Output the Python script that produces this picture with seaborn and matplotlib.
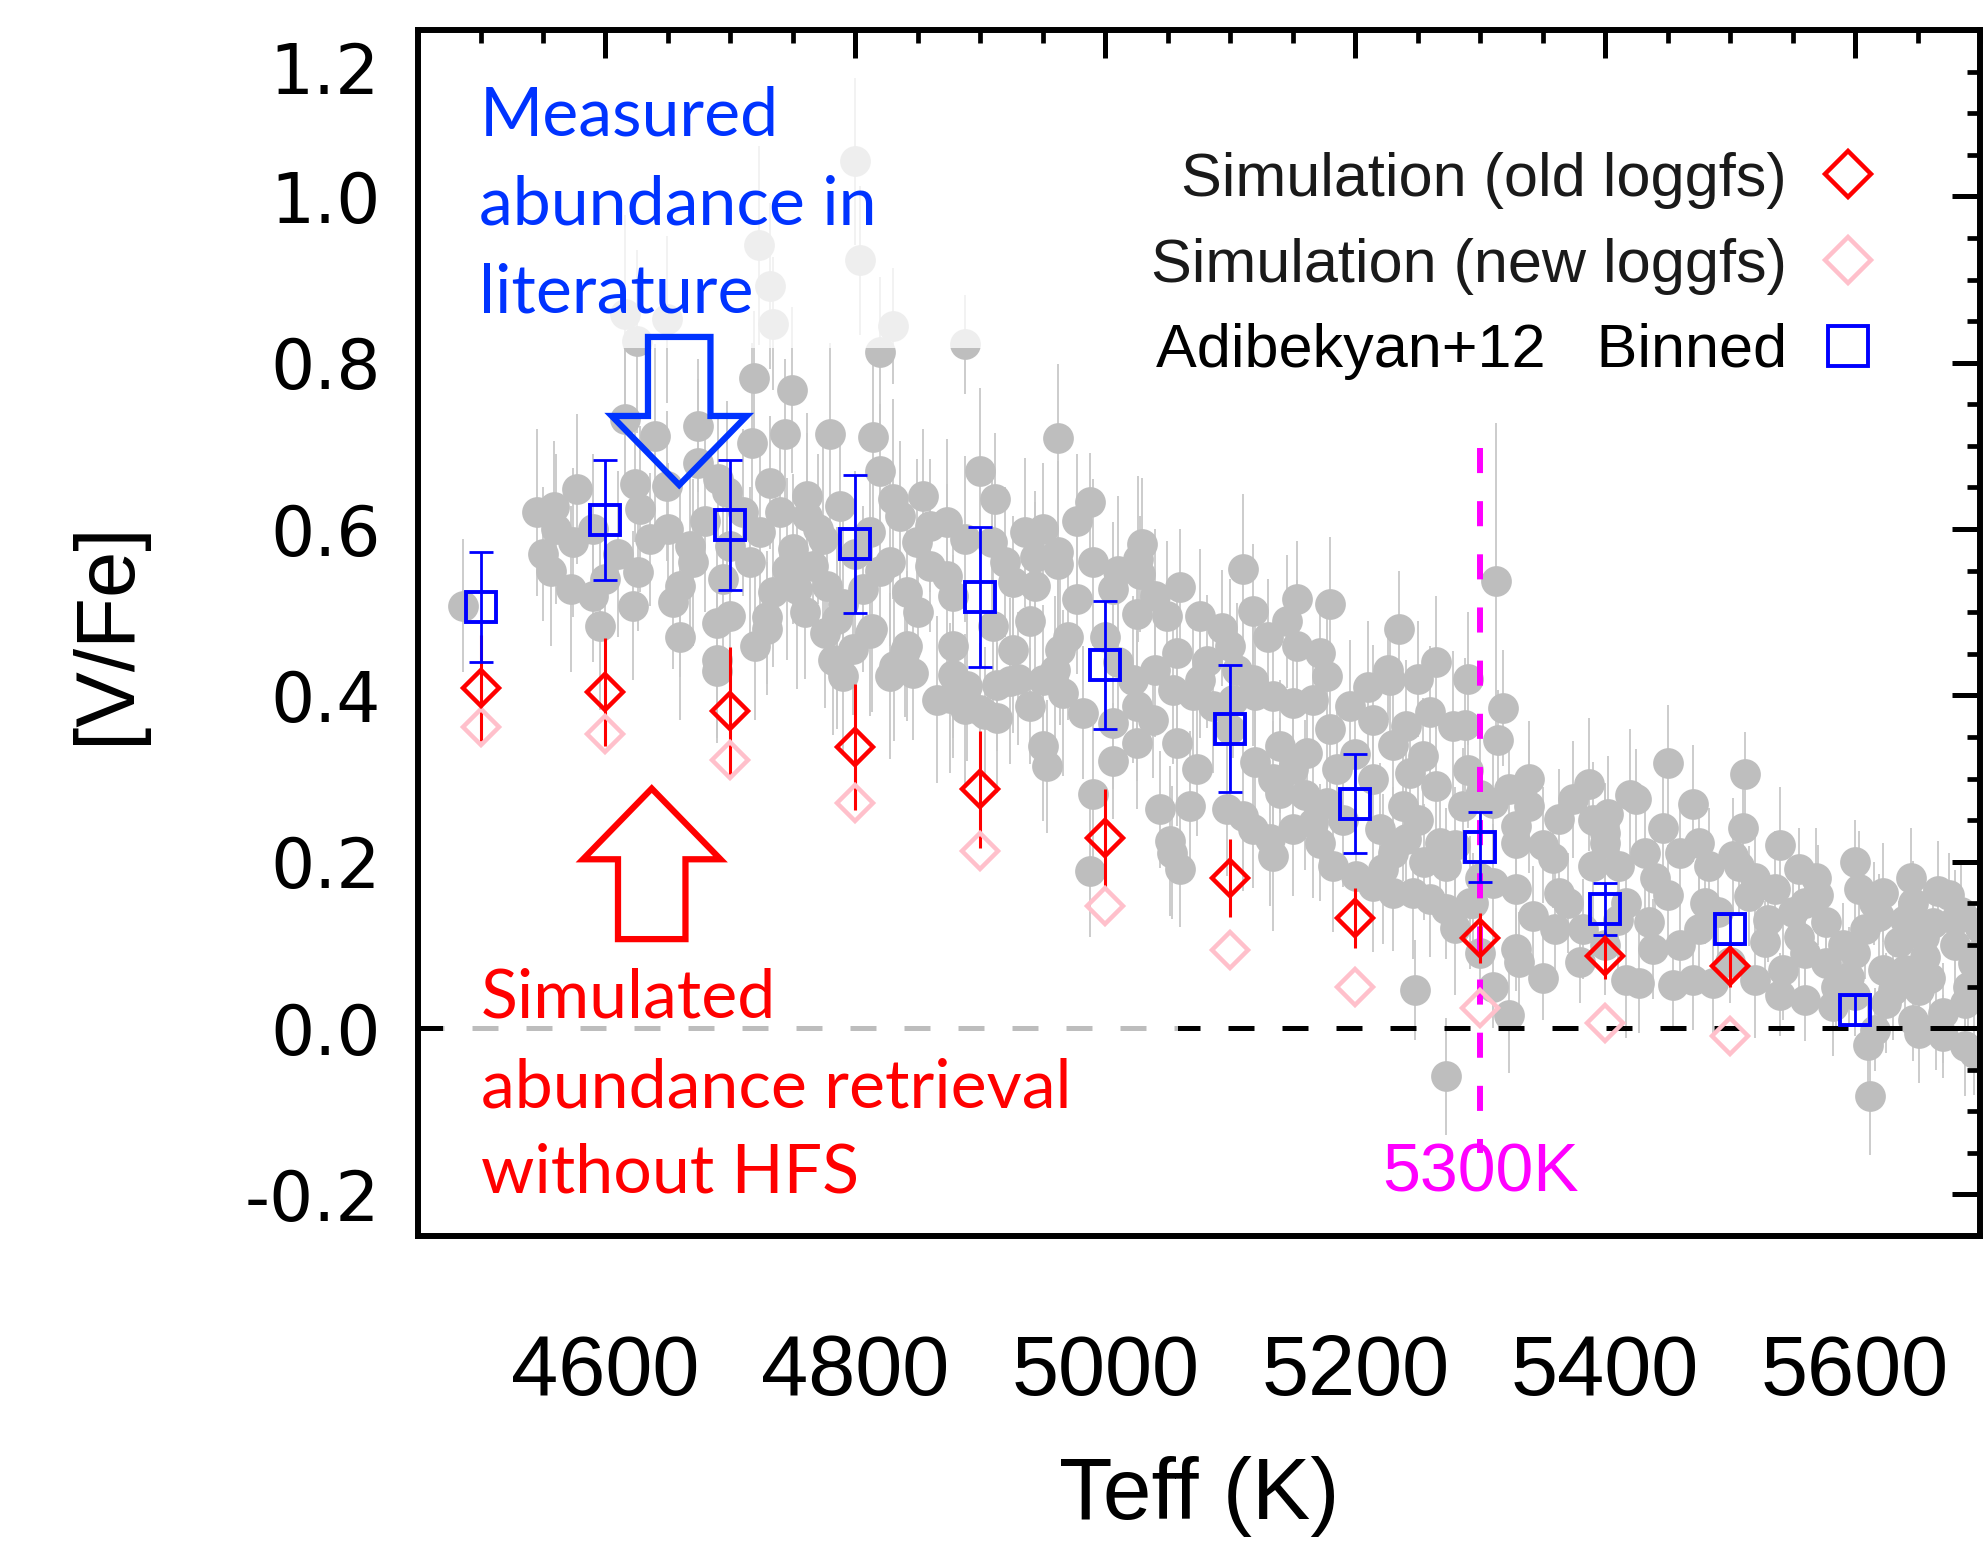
import numpy as np
import pandas as pd
import matplotlib
matplotlib.use("Agg")
import matplotlib.pyplot as plt
import seaborn as sns
from matplotlib.patches import Polygon, Rectangle
from matplotlib.ticker import MultipleLocator
import matplotlib.transforms as mtransforms

# ---------------- data ----------------
# Adibekyan+12 individual stars (Teff, [V/Fe], error)
star_teff = [
    4800, 4723, 4804, 4732, 4734, 4616, 4649, 4625, 4830, 4888, 4820,
    4719, 4749, 4616, 4640, 4674, 4717, 4744, 4780, 4814, 4820, 4674, 4577, 4559, 4624, 4628,
    4649, 4697, 4732, 4761, 4788, 4830, 4854, 4873, 4574, 4636, 4668, 4724, 4750, 4774, 4812,
    4849, 4556, 4626, 4572, 4590, 4622, 4660, 4654, 4694, 4734, 4753, 4777, 4806, 4841, 4873,
    4486, 4596, 4689, 4729, 4785, 4812, 4841, 4798, 4689, 4782, 4878, 4700, 4761, 4836, 4860,
    4745, 4766, 4828, 4860, 4716, 4670, 4878,
    4962, 4900, 4912, 4988, 4977, 4936, 5029, 5026, 5028, 4888, 4909, 4944, 4962, 4962, 4926,
    4944, 5110, 5118, 5153, 5145, 4977, 5006, 5025, 5049, 5076, 5093, 4940, 4910, 5153, 5172,
    5057, 5081, 4926, 4964, 5226, 5105, 5180, 5235, 5265, 5313,
    4689, 4790, 4828, 4846, 4876, 4878, 4729, 4776, 4813, 4785, 4831, 4840, 4865, 4888, 4904,
    4889, 4913, 4924, 4913, 4900, 4940, 4950, 4966, 4982, 4950, 4953, 5006, 4990, 4988, 5022,
    5025, 5025, 5044, 5052, 5053, 5060, 5068, 5057, 5073, 5054, 5076, 5097, 5110, 5118, 5132,
    5134, 5140, 5134, 5140, 5150, 5161, 5150, 5166, 5172, 5182, 5177, 5185, 5196, 5214, 5214,
    5220, 5201, 5222, 5214, 5230, 5241, 5238, 5244, 5241, 5254, 5265, 5278, 5286, 5268, 5273,
    5246, 5260, 5273, 5292, 5228, 5177, 5166, 5248, 5273, 5118, 5134, 5150, 5102, 5086, 5038,
    5006,
    5318, 5314, 5288, 5339, 5323, 5310, 5339, 5329, 5329, 5363, 5374, 5387, 5425, 5450, 5512,
    5402, 5400, 5400, 5358, 5390, 5411, 5432, 5446, 5475, 5483, 5507, 5555, 5569, 5603, 5622,
    5646, 5666, 5536, 5698, 5294, 5310, 5329, 5363, 5342, 5360, 5382, 5329, 5331, 5323, 5417,
    5435, 5438, 5417, 5427, 5454, 5470, 5475, 5480, 5486, 5520, 5528, 5542, 5555, 5560, 5582,
    5577, 5595, 5616, 5612, 5622, 5635, 5630, 5646, 5651, 5656, 5670, 5670, 5688, 5688, 5694,
    5662, 5608, 5619, 5651, 5577, 5515, 5502, 5590, 5640, 5600, 5680, 5660, 5700, 5530, 5460,
    5500, 5450, 5560,
    4590, 4610, 4650, 4680, 4700, 4710, 4600, 4560, 4545, 4690, 4740, 4770, 4800, 4820, 4850,
    4790, 4760, 4720, 4660, 4550,
    4920, 4950, 4990, 5010, 5040, 5060, 5000, 4970, 4930, 4960, 5010, 5040, 5070, 5100, 5130,
    5120,
    5100, 5120, 5160, 5190, 5200, 5230, 5250, 5280, 5260, 5290, 5180, 5210, 5250, 5290, 5300,
    5300, 5280, 5255, 5230,
    5350, 5370, 5390, 5410, 5420, 5440, 5460, 5470, 5490, 5510, 5520, 5540, 5550, 5380, 5400,
    5350, 5300, 5310,
    5570, 5585, 5600, 5615, 5625, 5640, 5655, 5665, 5680, 5690, 5700, 5675, 5645, 5600, 5560,
    5540, 5610, 5695, 5685, 5700,
]
star_vfe = [
    1.042, 0.941, 0.923, 0.892, 0.847, 0.858, 0.852, 0.826, 0.844, 0.822, 0.813,
    0.782, 0.767, 0.732, 0.712, 0.724, 0.704, 0.714, 0.714, 0.711, 0.670, 0.680, 0.648, 0.626, 0.654, 0.624,
    0.652, 0.644, 0.656, 0.640, 0.628, 0.636, 0.640, 0.608, 0.584, 0.588, 0.580, 0.596, 0.576, 0.588, 0.596,
    0.584, 0.550, 0.548, 0.528, 0.520, 0.508, 0.532, 0.512, 0.540, 0.524, 0.528, 0.532, 0.528, 0.524, 0.544,
    0.508, 0.483, 0.487, 0.480, 0.492, 0.475, 0.459, 0.456, 0.443, 0.443, 0.459, 0.495, 0.616, 0.616, 0.604,
    0.552, 0.556, 0.560, 0.556, 0.560, 0.560, 0.520,
    0.709, 0.670, 0.636, 0.632, 0.610, 0.596, 0.582, 0.564, 0.546, 0.588, 0.584, 0.566, 0.572, 0.558, 0.536,
    0.532, 0.552, 0.502, 0.516, 0.489, 0.516, 0.528, 0.498, 0.496, 0.496, 0.481, 0.490, 0.484, 0.459, 0.451,
    0.451, 0.441, 0.455, 0.455, 0.431, 0.431, 0.510, 0.480, 0.440, 0.538,
    0.429, 0.423, 0.423, 0.427, 0.397, 0.425, 0.494, 0.475, 0.480, 0.440, 0.435, 0.454, 0.395, 0.384, 0.378,
    0.411, 0.413, 0.417, 0.373, 0.383, 0.387, 0.419, 0.403, 0.379, 0.339, 0.315, 0.321, 0.281, 0.189, 0.419,
    0.387, 0.343, 0.263, 0.225, 0.211, 0.191, 0.267, 0.343, 0.311, 0.407, 0.419, 0.263, 0.255, 0.239, 0.227,
    0.207, 0.339, 0.299, 0.283, 0.311, 0.331, 0.239, 0.247, 0.223, 0.195, 0.271, 0.311, 0.387, 0.371, 0.299,
    0.239, 0.183, 0.191, 0.171, 0.163, 0.227, 0.267, 0.307, 0.363, 0.327, 0.291, 0.363, 0.267, 0.223, 0.195,
    0.163, 0.155, 0.143, 0.151, 0.419, 0.423, 0.395, 0.046, -0.058, 0.419, 0.399, 0.391, 0.395, 0.387, 0.371,
    0.367,
    0.385, 0.346, 0.365, 0.299, 0.287, 0.271, 0.267, 0.243, 0.223, 0.251, 0.275, 0.293, 0.275, 0.319, 0.306,
    0.257, 0.235, 0.223, 0.205, 0.195, 0.195, 0.211, 0.241, 0.223, 0.195, 0.195, 0.191, 0.181, 0.167, 0.163,
    0.151, 0.165, 0.167, 0.126, 0.151, 0.175, 0.167, 0.163, 0.135, 0.119, 0.119, 0.095, 0.079, 0.016, 0.151,
    0.127, 0.095, 0.058, 0.054, 0.052, 0.058, 0.119, 0.151, 0.054, 0.058, 0.103, 0.070, 0.110, 0.034, 0.026,
    0.078, 0.062, -0.002, -0.082, 0.070, 0.103, 0.046, 0.010, -0.006, 0.086, 0.018, -0.010, -0.022, 0.030, 0.078,
    0.126, 0.119, 0.135, 0.046, 0.127, 0.159, 0.207, 0.100, 0.130, 0.040, 0.100, 0.060, 0.050, 0.130, 0.100,
    0.080, 0.160, 0.150,
    0.600, 0.570, 0.600, 0.610, 0.580, 0.620, 0.540, 0.600, 0.620, 0.660, 0.620, 0.600, 0.570, 0.550, 0.500,
    0.510, 0.500, 0.460, 0.470, 0.570,
    0.560, 0.600, 0.560, 0.550, 0.520, 0.530, 0.470, 0.470, 0.420, 0.430, 0.440, 0.430, 0.400, 0.460, 0.470,
    0.400,
    0.360, 0.320, 0.280, 0.250, 0.330, 0.340, 0.250, 0.220, 0.380, 0.310, 0.360, 0.410, 0.420, 0.420, 0.280,
    0.180, 0.120, 0.200, 0.210,
    0.220, 0.150, 0.250, 0.130, 0.280, 0.180, 0.210, 0.270, 0.140, 0.240, 0.180, 0.220, 0.140, 0.080, 0.100,
    0.060, 0.090, 0.050,
    0.160, 0.050, 0.090, 0.150, 0.030, 0.070, 0.110, 0.000, 0.130, 0.050, 0.090, 0.160, 0.180, 0.200, 0.090,
    0.040, -0.020, -0.030, 0.140, 0.120,
]
star_err = [
    0.10, 0.12, 0.09, 0.10, 0.08, 0.12, 0.10, 0.11, 0.07, 0.06, 0.09,
    0.08, 0.10, 0.09, 0.11, 0.08, 0.12, 0.09, 0.11, 0.10, 0.08, 0.10, 0.09, 0.08, 0.07, 0.10,
    0.09, 0.11, 0.08, 0.10, 0.09, 0.12, 0.08, 0.10, 0.09, 0.08, 0.11, 0.10, 0.09, 0.12, 0.08,
    0.10, 0.09, 0.07, 0.10, 0.08, 0.09, 0.11, 0.08, 0.10, 0.09, 0.12, 0.08, 0.10, 0.09, 0.11,
    0.08, 0.10, 0.09, 0.08, 0.11, 0.10, 0.09, 0.08, 0.10, 0.09, 0.11, 0.08, 0.10, 0.09, 0.08,
    0.11, 0.09, 0.10, 0.08, 0.09, 0.10, 0.09,
    0.09, 0.10, 0.08, 0.06, 0.08, 0.09, 0.08, 0.10, 0.07, 0.10, 0.09, 0.08, 0.11, 0.09, 0.08,
    0.10, 0.09, 0.08, 0.07, 0.08, 0.09, 0.08, 0.10, 0.09, 0.08, 0.07, 0.09, 0.10, 0.08, 0.07,
    0.09, 0.08, 0.10, 0.09, 0.06, 0.08, 0.08, 0.07, 0.08, 0.19,
    0.08, 0.09, 0.10, 0.08, 0.09, 0.10, 0.08, 0.09, 0.10, 0.08, 0.09, 0.08, 0.10, 0.09, 0.08,
    0.09, 0.08, 0.10, 0.09, 0.08, 0.07, 0.09, 0.10, 0.08, 0.09, 0.08, 0.07, 0.09, 0.08, 0.10,
    0.09, 0.08, 0.07, 0.09, 0.08, 0.07, 0.09, 0.10, 0.08, 0.09, 0.07, 0.08, 0.09, 0.07, 0.08,
    0.09, 0.08, 0.07, 0.09, 0.08, 0.07, 0.08, 0.09, 0.07, 0.08, 0.09, 0.07, 0.08, 0.09, 0.07,
    0.08, 0.07, 0.09, 0.08, 0.07, 0.08, 0.09, 0.07, 0.08, 0.07, 0.08, 0.09, 0.07, 0.08, 0.07,
    0.08, 0.07, 0.06, 0.08, 0.07, 0.08, 0.07, 0.06, 0.07, 0.08, 0.07, 0.08, 0.07, 0.08, 0.07,
    0.08,
    0.07, 0.06, 0.08, 0.07, 0.06, 0.07, 0.08, 0.06, 0.07, 0.06, 0.07, 0.08, 0.06, 0.07, 0.05,
    0.07, 0.06, 0.07, 0.06, 0.07, 0.06, 0.07, 0.08, 0.06, 0.07, 0.06, 0.05, 0.06, 0.07, 0.06,
    0.05, 0.06, 0.07, 0.05, 0.06, 0.07, 0.06, 0.05, 0.06, 0.07, 0.06, 0.05, 0.06, 0.07, 0.06,
    0.05, 0.06, 0.07, 0.06, 0.05, 0.06, 0.07, 0.05, 0.06, 0.07, 0.05, 0.06, 0.07, 0.05, 0.06,
    0.05, 0.06, 0.05, 0.07, 0.06, 0.05, 0.06, 0.05, 0.06, 0.05, 0.06, 0.05, 0.06, 0.05, 0.06,
    0.05, 0.06, 0.05, 0.06, 0.05, 0.06, 0.07, 0.05, 0.06, 0.05, 0.06, 0.05, 0.06, 0.05, 0.06,
    0.05, 0.06, 0.05,
    0.09, 0.10, 0.08, 0.11, 0.09, 0.10, 0.08, 0.09, 0.10, 0.08, 0.11, 0.09, 0.10, 0.08, 0.09,
    0.10, 0.08, 0.09, 0.10, 0.08,
    0.09, 0.08, 0.10, 0.09, 0.08, 0.07, 0.09, 0.10, 0.08, 0.09, 0.07, 0.08, 0.09, 0.08, 0.07,
    0.09,
    0.08, 0.07, 0.09, 0.08, 0.07, 0.08, 0.09, 0.07, 0.08, 0.07, 0.09, 0.08, 0.07, 0.08, 0.09,
    0.07, 0.08, 0.07, 0.08,
    0.07, 0.06, 0.07, 0.06, 0.08, 0.07, 0.06, 0.07, 0.06, 0.07, 0.06, 0.07, 0.06, 0.05, 0.06,
    0.05, 0.06, 0.05,
    0.06, 0.05, 0.06, 0.05, 0.06, 0.05, 0.06, 0.05, 0.06, 0.05, 0.06, 0.05, 0.06, 0.05, 0.06,
    0.05, 0.06, 0.05, 0.06, 0.05,
]

# Binned Adibekyan+12
bin_teff = [4500, 4600, 4700, 4800, 4900, 5000, 5100, 5200, 5300, 5400, 5500, 5600]
bin_vfe = [0.506, 0.611, 0.605, 0.582, 0.518, 0.437, 0.360, 0.270, 0.218, 0.143, 0.119, 0.022]
bin_err = [0.066, 0.072, 0.078, 0.083, 0.084, 0.077, 0.076, 0.060, 0.042, 0.031, 0.018, 0.018]

# Simulations
sim_teff = [4500, 4600, 4700, 4800, 4900, 5000, 5100, 5200, 5300, 5400, 5500]
sim_old = [0.409, 0.404, 0.381, 0.338, 0.287, 0.228, 0.180, 0.132, 0.108, 0.087, 0.075]
sim_old_err = [0.064, 0.065, 0.077, 0.076, 0.070, 0.060, 0.047, 0.036, 0.030, 0.028, 0.025]
sim_new = [0.362, 0.354, 0.322, 0.271, 0.213, 0.147, 0.094, 0.049, 0.024, 0.006, -0.009]

xticks = [4600, 4800, 5000, 5200, 5400, 5600]
xtick_labels = ["4600", "4800", "5000", "5200", "5400", "5600"]
yticks = [-0.2, 0.0, 0.2, 0.4, 0.6, 0.8, 1.0, 1.2]
ytick_labels = ["-0.2", "0.0", "0.2", "0.4", "0.6", "0.8", "1.0", "1.2"]
legend_labels = ["Simulation (old loggfs)", "Simulation (new loggfs)", "Adibekyan+12   Binned"]
cut_teff = 5300

# ---------------- style ----------------
sns.set_theme(style="white")
plt.rcParams["font.family"] = ["Liberation Sans", "DejaVu Sans"]
plt.rcParams["axes.unicode_minus"] = False
plt.rcParams["text.color"] = "black"
plt.rcParams["axes.labelcolor"] = "black"
plt.rcParams["xtick.color"] = "black"
plt.rcParams["ytick.color"] = "black"
plt.rcParams["axes.axisbelow"] = False

fig = plt.figure(figsize=(19.86, 15.41), dpi=100)
ax = fig.add_axes([0.2105, 0.1979, 0.7865, 0.7826])
ax.set_axisbelow(False)

stars = pd.DataFrame({"teff": star_teff, "vfe": star_vfe, "err": star_err})

GRAY = "#BEBEBE"
ax.vlines(stars["teff"], stars["vfe"] - stars["err"], stars["vfe"] + stars["err"],
          color="#C8C8C8", lw=1.3, zorder=1)
sns.scatterplot(data=stars, x="teff", y="vfe", ax=ax, s=490, color=GRAY,
                linewidth=0, zorder=2, legend=False)

# zero line
ax.axhline(0.0, color="black", lw=3.6, dashes=(5.2, 5.6), zorder=2.2)

# semi-transparent white boxes behind annotation texts
ax.add_patch(Rectangle((4470, 0.818), 460, 0.382, facecolor="white", alpha=0.745,
                       edgecolor="none", zorder=2.3))
ax.add_patch(Rectangle((4470, -0.235), 588, 0.31, facecolor="white", alpha=0.745,
                       edgecolor="none", zorder=2.3))

# 5300 K line
ax.plot([cut_teff, cut_teff], [0.698, -0.15], color="#FF00FF", lw=4.3,
        dashes=(4.2, 4.7), zorder=2.4)

# simulations and binned values
ax.errorbar(sim_teff, sim_old, yerr=sim_old_err, fmt="none", ecolor="red", elinewidth=2.2,
            capsize=0, zorder=4)
ax.errorbar(bin_teff, bin_vfe, yerr=bin_err, fmt="none", ecolor="blue", elinewidth=2.0,
            capsize=8.5, capthick=2.0, zorder=4)
h_new, = ax.plot(sim_teff, sim_new, ls="none", marker="D", ms=18, mfc="none",
                 mec="pink", mew=3.2, zorder=4.5)
h_old, = ax.plot(sim_teff, sim_old, ls="none", marker="D", ms=18, mfc="none",
                 mec="red", mew=3.2, zorder=5)
h_bin, = ax.plot(bin_teff, bin_vfe, ls="none", marker="s", ms=22, mfc="none",
                 mec="blue", mew=2.8, zorder=5)

# arrows (hollow)
def arrow_poly(cx, y_start, y_headbase, y_tip, shaft_hw, head_hw):
    return [(cx - shaft_hw, y_start), (cx - shaft_hw, y_headbase), (cx - head_hw, y_headbase),
            (cx, y_tip), (cx + head_hw, y_headbase), (cx + shaft_hw, y_headbase),
            (cx + shaft_hw, y_start)]

ax.add_patch(Polygon(arrow_poly(4659, 0.831, 0.736, 0.653, 25, 54), closed=True,
                     fill=False, edgecolor="#0033FF", lw=4.5, joinstyle="miter", zorder=6))
ax.add_patch(Polygon(arrow_poly(4637, 0.107, 0.203, 0.288, 27, 55), closed=True,
                     fill=False, edgecolor="red", lw=4.5, joinstyle="miter", zorder=6))

# annotation texts
for txt, yb in zip(["Measured", "abundance in", "literature"], [1.073, 0.966, 0.860]):
    ax.text(4499, yb, txt, color="#0033FF", fontsize=49, family=["Lato", "DejaVu Sans"],
            va="baseline", ha="left", zorder=7)
for txt, yb in zip(["Simulated", "abundance retrieval", "without HFS"], [0.013, -0.095, -0.198]):
    ax.text(4500, yb, txt, color="red", fontsize=49, family=["Lato", "DejaVu Sans"],
            va="baseline", ha="left", zorder=7)
ax.text(cut_teff, -0.196, f"{cut_teff}K", color="#FF00FF", fontsize=49, ha="center",
        va="baseline", zorder=7)

# legend
leg = ax.legend([h_old, h_new, h_bin], legend_labels, loc="upper right",
                bbox_to_anchor=(0.935, 0.899), frameon=False, markerfirst=False,
                fontsize=44, markerscale=1.3, handlelength=1.0, handletextpad=0.5,
                labelspacing=0.47, borderpad=0, borderaxespad=0)
for t in leg.get_texts():
    t.set_color("#1a1a1a")
leg.get_texts()[2].set_color("black")

# axes
ax.set_xlim(4450, 5700)
ax.set_ylim(-0.25, 1.2)
ax.set_xticks(xticks)
ax.set_xticklabels(xtick_labels, fontsize=61)
ax.set_yticks(yticks)
ax.set_yticklabels(ytick_labels[:-1] + [""], fontsize=50, family=["DejaVu Sans"])
ax.xaxis.set_minor_locator(MultipleLocator(50))
ax.yaxis.set_minor_locator(MultipleLocator(0.05))
ax.tick_params(which="both", direction="in", top=True, right=True, color="black",
               labelcolor="black")
ax.tick_params(which="major", length=20, width=3.6)
ax.tick_params(which="minor", length=9.5, width=3.4)
ax.tick_params(axis="x", which="major", pad=70)
ax.tick_params(axis="y", which="major", pad=27)
ax.xaxis.set_zorder(3)
ax.yaxis.set_zorder(3)
# top label placed slightly lower, as in the original
trans = mtransforms.blended_transform_factory(ax.transAxes, ax.transData)
ax.text(-0.0243, 1.147, ytick_labels[-1], transform=trans, ha="right", va="center",
        fontsize=50, family=["DejaVu Sans"], color="black")

for s in ax.spines.values():
    s.set_linewidth(4.3)
    s.set_color("black")
    s.set_zorder(3)

ax.set_xlabel("Teff (K)", fontsize=63, color="black")
ax.xaxis.set_label_coords(0.5, -0.1820)
ax.set_ylabel("[V/Fe]", fontsize=60, color="black")
ax.yaxis.set_label_coords(-0.174, 0.5)

fig.savefig("out.png", dpi=100)
